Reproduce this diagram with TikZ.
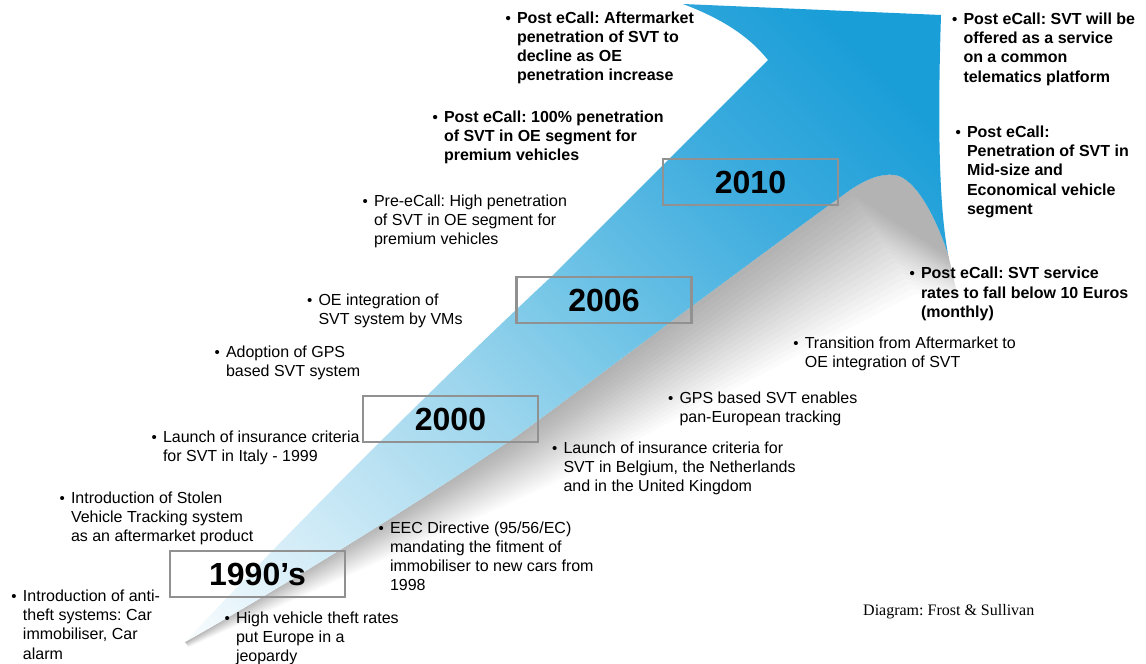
\documentclass[tikz,border=0pt]{standalone}
\usepackage{fontspec}
\setmainfont{Liberation Sans}
\newfontfamily\serifx{Liberation Serif}
\frenchspacing
\definecolor{c0}{RGB}{250,253,254}
\definecolor{c1}{RGB}{220,240,249}
\definecolor{c2}{RGB}{158,214,237}
\definecolor{c3}{RGB}{110,195,230}
\definecolor{c4}{RGB}{62,172,222}
\definecolor{c5}{RGB}{26,158,216}
\definecolor{boxgray}{RGB}{145,145,145}
\pgfdeclarehorizontalshading{arrowshade}{100bp}{color(0bp)=(c0); color(25bp)=(c0); color(31bp)=(c1); color(44bp)=(c2); color(52bp)=(c3); color(61bp)=(c4); color(70bp)=(c5); color(100bp)=(c5)}
\newcommand{\bul}[1]{\makebox[11.5pt][l]{\fontsize{15}{15}\selectfont\textbullet}\begin{tabular}[t]{@{}l@{}}#1\end{tabular}}
\def\arrowpath{(185,642) .. controls (300,520) and (430,390) .. (552,276) -- (768,60) .. controls (748,35) and (720,18) .. (683,4) -- (941,15) .. controls (938,110) and (938,200) .. (948,254) .. controls (935,215) and (915,178) .. (895,175) .. controls (880,173) and (865,180) .. (850,190) .. controls (750,262) and (600,375) .. (517,436) .. controls (400,515) and (260,600) .. (185,642) -- cycle}
\tikzset{
  txt/.style={inner sep=0pt, outer sep=0pt, anchor=base west, text=black, font=\fontsize{16}{19.2}\selectfont},
  btxt/.style={txt, font=\fontsize{16}{19.2}\selectfont\bfseries},
  yearbox/.style={draw=boxgray, line width=2.5pt, minimum width=175pt, minimum height=46pt, inner sep=0pt, text=black, font=\fontsize{32}{32}\selectfont\bfseries},
  shadowlayer/.style={fill=black, fill opacity=0.014}
}
\begin{document}
\begin{tikzpicture}[x=1pt,y=-1pt]
\fill[white] (0,0) rectangle (1146,664);
\useasboundingbox (0,0) rectangle (1146,664);
% shadow under the arrow
\foreach \k [evaluate=\k as \d using 6.5*\k] in {1,...,20} {
  \fill[shadowlayer] (948,254) .. controls (935,215) and (915,178) .. (895,175) .. controls (880,173) and (865,180) .. (850,190) .. controls (750,262) and (600,375) .. (517,436) .. controls (400,515) and (260,600) .. (185,642) -- ({185+0.03*\d},{642+0.04*\d}) -- ({517+0.25*\d},{436+0.38*\d}) -- ({850+0.5*\d},{190+0.8*\d}) -- ({948+0.08*\d},{254+0.35*\d}) -- cycle;
}
% arrow
\begin{scope}
\clip \arrowpath;
\begin{scope}[transform canvas={rotate around={45:(567,325)}}]
\shade[shading=arrowshade] (67,-175) rectangle (1067,825);
\end{scope}
\end{scope}
% year boxes
\node[yearbox] (y1990) at (257.5,574) {1990’s};
\node[yearbox] (y2000) at (450.5,419) {2000};
\node[yearbox] (y2006) at (604,300) {2006};
\node[yearbox] (y2010) at (750.5,182) {2010};
% texts
\node[btxt] (tA) at (505.5,23.3) {\bul{Post eCall: Aftermarket\\penetration of SVT to\\decline as OE\\penetration increase}};
\node[btxt] (tB) at (432.5,122) {\bul{Post eCall: 100\% penetration\\of SVT in OE segment for\\premium vehicles}};
\node[txt] (tC) at (362.5,206.5) {\bul{Pre-eCall: High penetration\\of SVT in OE segment for\\premium vehicles}};
\node[txt] (tD) at (307,305) {\bul{OE integration of\\SVT system by VMs}};
\node[txt] (tE) at (214.5,357.2) {\bul{Adoption of GPS\\based SVT system}};
\node[txt] (tF) at (151.5,442.5) {\bul{Launch of insurance criteria\\for SVT in Italy - 1999}};
\node[txt] (tG) at (59.5,503.5) {\bul{Introduction of Stolen\\Vehicle Tracking system\\as an aftermarket product}};
\node[txt] (tH) at (11.5,601.5) {\bul{Introduction of anti-\\theft systems: Car\\immobiliser, Car\\alarm}};
\node[txt] (tI) at (224.5,623.3) {\bul{High vehicle theft rates\\put Europe in a\\jeopardy}};
\node[txt] (tJ) at (378.5,533) {\bul{EEC Directive (95/56/EC)\\mandating the fitment of\\immobiliser to new cars from\\1998}};
\node[txt] (tK) at (552,453.4) {\bul{Launch of insurance criteria for\\SVT in Belgium, the Netherlands\\and in the United Kingdom}};
\node[txt] (tL) at (668,403.5) {\bul{GPS based SVT enables\\pan-European tracking}};
\node[txt] (tM) at (793.3,348.5) {\bul{Transition from Aftermarket to\\OE integration of SVT}};
\node[btxt] (tN) at (909.5,278.8) {\bul{Post eCall: SVT service\\rates to fall below 10 Euros\\(monthly)}};
\node[btxt] (tO) at (955.5,137.5) {\bul{Post eCall:\\Penetration of SVT in\\Mid-size and\\Economical vehicle\\segment}};
\node[btxt] (tP) at (952,24.5) {\bul{Post eCall: SVT will be\\offered as a service\\on a common\\telematics platform}};
\node[inner sep=0pt, anchor=base west, font=\serifx\fontsize{16}{19}\selectfont] (src) at (863,615) {Diagram: Frost \& Sullivan};
\end{tikzpicture}
\end{document}
